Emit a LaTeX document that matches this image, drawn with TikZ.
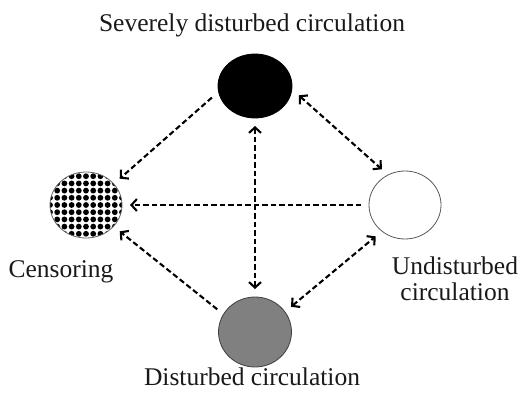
\documentclass[tikz,border=0pt]{standalone}
\usepackage{fontspec}
\setmainfont{Liberation Serif}
\usetikzlibrary{arrows.meta,shapes.geometric}
\tikzset{
  state/.style={ellipse, inner sep=0pt, outer sep=8pt, line width=0.8pt},
  link/.style={dash pattern=on 5.5pt off 3pt, line width=2.1pt},
  barb/.tip={Straight Barb[length=5.5pt,width=12pt]},
  lab/.style={font=\fontsize{25.5}{25.5}\selectfont, anchor=base, inner sep=0pt, text=black!90},
  dotted fill/.style={path picture={
    \foreach \i in {-6,...,6}{\foreach \j in {-6,...,6}{
      \fill[black] ([xshift=\i*7.2pt, yshift=\j*7.2pt]path picture bounding box.center) circle (2.9pt);}}}}
}
\begin{document}
\begin{tikzpicture}[x=1pt,y=-1pt]
\useasboundingbox (0,0) rectangle (521,396);
\node[state, fill=black, draw=black, minimum width=74pt, minimum height=64pt] (T) at (255,86) {};
\node[state, draw=gray!80!black, fill=white, dotted fill, minimum width=72pt, minimum height=66pt] (L) at (86,205) {};
\node[state, draw=gray!70!black, fill=white, minimum width=72pt, minimum height=68pt] (R) at (405,205) {};
\node[state, draw=black!75, fill={rgb,255:red,128;green,128;blue,128}, minimum width=73pt, minimum height=70pt] (B) at (255,332) {};

\node[lab] (tT) at (252,32) {Severely disturbed circulation};
\node[lab] (tL) at (61,277) {Censoring};
\node[lab, align=center] (tR) at (455,300) {Undisturbed\\circulation};
\node[lab] (tB) at (252,385) {Disturbed circulation};

\draw[link, -barb] (T.195) -- (L.38);
\draw[link, barb-barb] (T.348) -- (R.123);
\draw[link, -barb] (R.180) -- (L.0);
\draw[link, barb-barb] (T.270) -- (B.90);
\draw[link, -barb] (B.149) -- (L.322);
\draw[link, barb-barb] (B.35) -- (R.227);
\end{tikzpicture}
\end{document}
